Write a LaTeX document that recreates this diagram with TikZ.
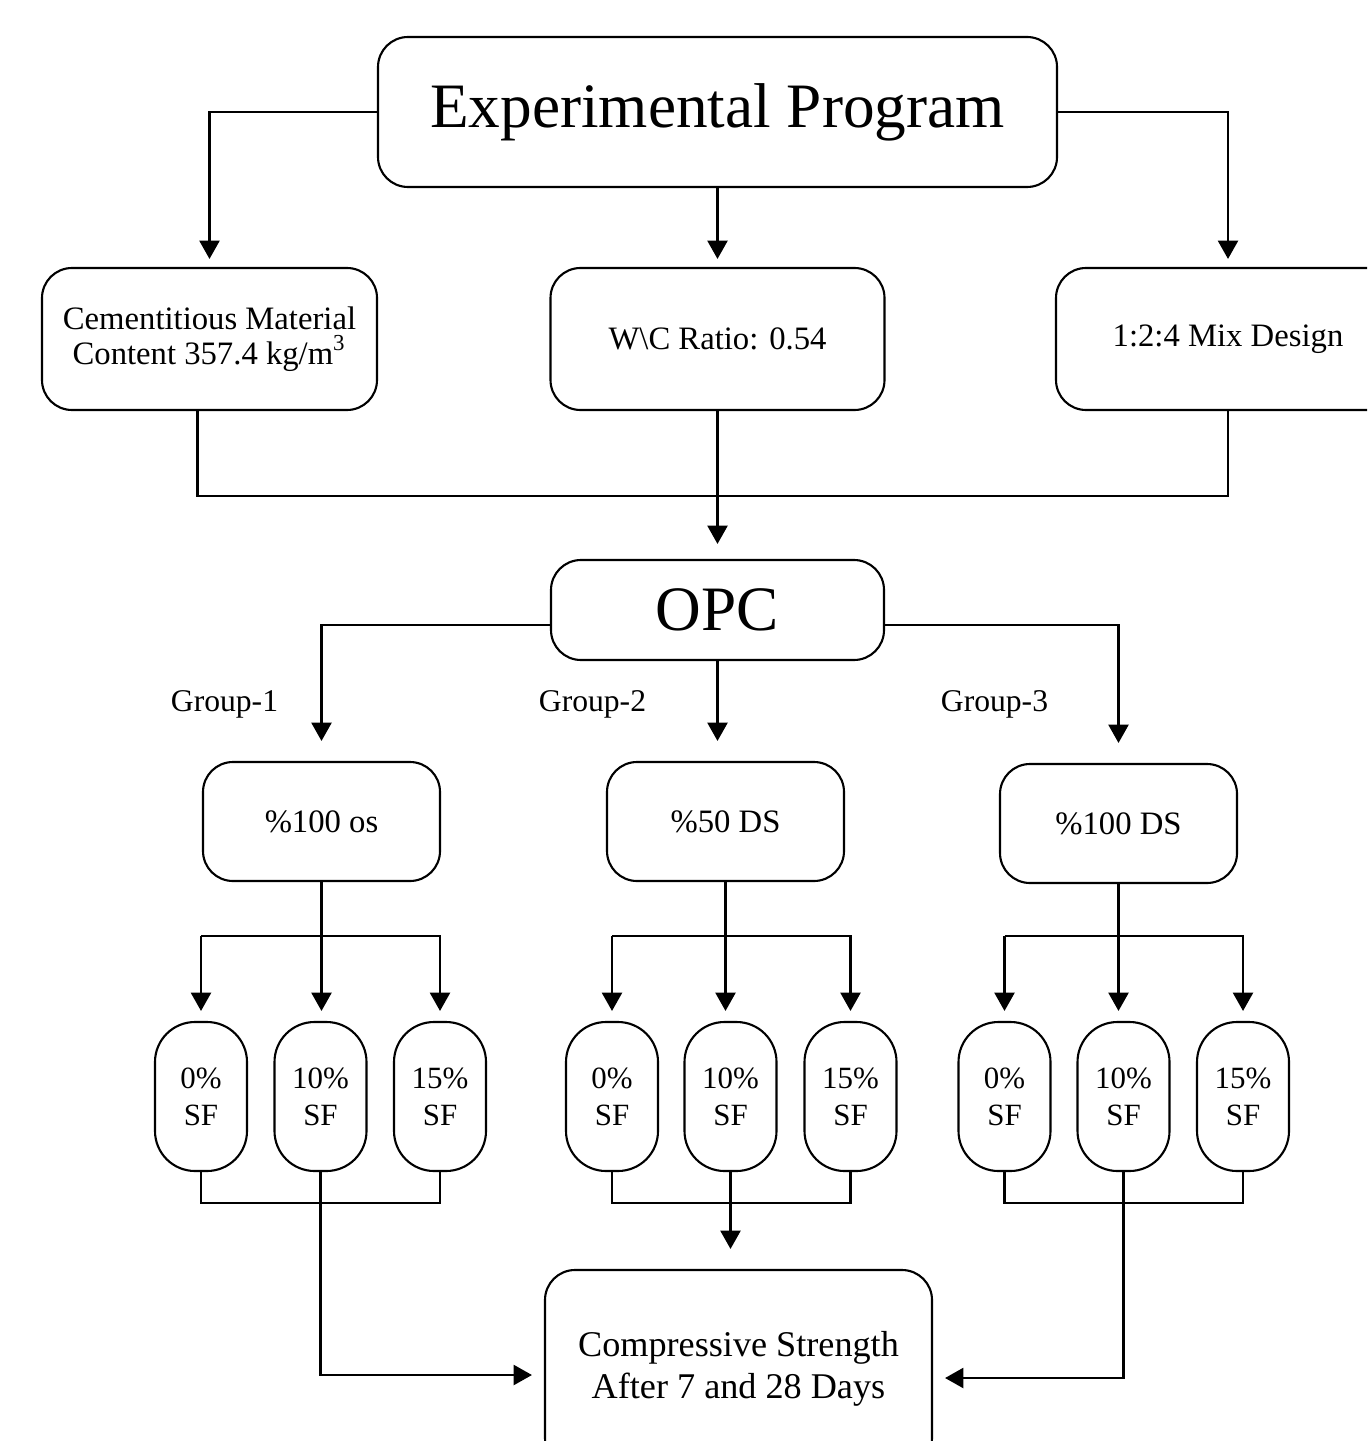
\documentclass[tikz,border=0pt]{standalone}
\usepackage{fontspec}
\setmainfont{Liberation Serif}
\usetikzlibrary{arrows.meta}

\begin{document}
\begin{tikzpicture}[
        box/.style={draw, line width=0.6pt, rounded corners=0.3cm, align=center, inner sep=0pt},
        mid/.style={box, minimum width=3.34cm, minimum height=1.42cm, font=\fontsize{9.3}{10}\selectfont},
        grp/.style={box, minimum width=2.37cm, minimum height=1.19cm, font=\fontsize{9.3}{11}\selectfont},
        pill/.style={box, rounded corners=0.4cm, minimum width=0.92cm, minimum height=1.49cm, font=\fontsize{8.8}{10.5}\selectfont},
        big/.style={box, font=\fontsize{18}{20}\selectfont},
        lab/.style={font=\fontsize{9}{11}\selectfont},
        arr/.style={line width=0.6pt, -{Triangle[width=5.7pt, length=5.2pt]}},
        line/.style={line width=0.6pt}
    ]
        \clip (0, 0) rectangle (13.67, -14.41);

        \node[big, minimum width=6.79cm, minimum height=1.5cm] (prog) at (7.175, -1.12) {Experimental Program};
        \node[mid, minimum width=3.35cm] (cem) at (2.095, -3.39) {Cementitious Material\\ Content 357.4 kg/m\textsuperscript{3}};
        \node[mid] (wc) at (7.175, -3.39) {W\textbackslash C Ratio: 0.54};
        \node[mid, minimum width=3.44cm] (mix) at (12.28, -3.39) {1:2:4 Mix Design};
        \node[big, minimum width=3.33cm, minimum height=1.0cm] (opc) at (7.175, -6.10) {OPC};

        \node[lab] (lab1) at (2.245, -7.04) {Group-1};
        \node[lab] (lab2) at (5.925, -7.04) {Group-2};
        \node[lab] (lab3) at (9.945, -7.04) {Group-3};

        \node[grp] (g1) at (3.215, -8.215) {\%100 os};
        \node[grp] (g2) at (7.255, -8.215) {\%50 DS};
        \node[grp] (g3) at (11.185, -8.235) {\%100 DS};

        \node[pill] (s11) at (2.01, -10.965) {0\%\\SF};
        \node[pill] (s12) at (3.205, -10.965) {10\%\\SF};
        \node[pill] (s13) at (4.40, -10.965) {15\%\\SF};
        \node[pill] (s21) at (6.12, -10.965) {0\%\\SF};
        \node[pill] (s22) at (7.305, -10.965) {10\%\\SF};
        \node[pill] (s23) at (8.505, -10.965) {15\%\\SF};
        \node[pill] (s31) at (10.045, -10.965) {0\%\\SF};
        \node[pill] (s32) at (11.235, -10.965) {10\%\\SF};
        \node[pill] (s33) at (12.43, -10.965) {15\%\\SF};

        \node[box, minimum width=3.87cm, minimum height=1.98cm, font=\fontsize{10.3}{12}\selectfont] (comp) at (7.385, -13.69) {Compressive Strength\\After 7 and 28 Days};

        \draw[arr, shorten >=0.08cm] (prog.west) -| (cem.north);
        \draw[arr, shorten >=0.08cm] (prog.south) -- (wc.north);
        \draw[arr, shorten >=0.08cm] (prog.east) -| (mix.north);
        \draw[line] ([xshift=-0.12cm]cem.south) -- ++(0, -0.85) -| (mix.south);
        \draw[arr, shorten >=0.15cm] (wc.south) -- (opc.north);

        \draw[arr, shorten >=0.2cm] ([yshift=-0.15cm]opc.west) -| (g1.north);
        \draw[arr, shorten >=0.2cm] (opc.south) -- (opc.south |- g2.north);
        \draw[arr, shorten >=0.2cm] ([yshift=-0.15cm]opc.east) -| (g3.north);

        \foreach \g in {1, 2, 3} {
            \draw[arr, shorten >=0.1cm] (g\g.south) -- (g\g.south |- s\g2.north);
            \draw[arr, shorten >=0.1cm] ([yshift=0.85cm]s\g1.north) -- (s\g1.north);
            \draw[arr, shorten >=0.1cm] ([yshift=0.85cm]s\g1.north) -| (s\g3.north);
            \draw[line] (s\g1.south) -- ++(0, -0.31) -| (s\g3.south);
        }

        \draw[arr, shorten >=0.12cm] (s12.south) |- ([yshift=-0.06cm]comp.west);
        \draw[arr, shorten >=0.2cm] (s22.south) -- (s22.south |- comp.north);
        \draw[arr, shorten >=0.12cm] (s32.south) |- ([yshift=-0.09cm]comp.east);
    \end{tikzpicture}
\end{document}
